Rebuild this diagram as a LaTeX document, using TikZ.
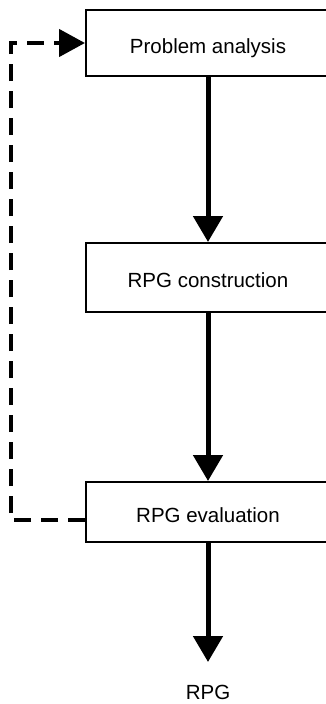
\documentclass[tikz,border=0pt]{standalone}
\usepackage{fontspec}
\setmainfont{Liberation Sans}
\usetikzlibrary{arrows.meta}
\begin{document}
\begin{tikzpicture}[x=1pt,y=-1pt,
  stepbox/.style={draw,line width=2pt,minimum width=244pt,inner sep=0pt,text height=20pt,text depth=0pt,font=\fontsize{20.5}{24}\selectfont},
  flow/.style={line width=5pt,-{Triangle[length=26pt,width=29pt]}},
  back/.style={line width=4.5pt,dash pattern=on 17pt off 10pt,-{Triangle[length=26pt,width=27pt]}}]
\useasboundingbox (0,0) rectangle (326,704);
\clip (0,0) rectangle (326,704);
\node[stepbox,minimum height=66pt] (a) at (208,43) {Problem analysis};
\node[stepbox,minimum height=69pt] (b) at (208,277.5) {RPG construction};
\node[stepbox,minimum height=60pt] (c) at (208,512) {RPG evaluation};
\node[font=\fontsize{20.5}{24}\selectfont] (r) at (208,692) {RPG};
\coordinate (tip) at (208,662);
\coordinate (c1) at (11,520);
\coordinate (c2) at (11,43);
\draw[flow] (a.south) -- (b.north);
\draw[flow] (b.south) -- (c.north);
\draw[flow] (c.south) -- (tip);
\draw[back] ([yshift=-8pt]c.west) -- (c1) -- (c2) -- (a.west);
\end{tikzpicture}
\end{document}
